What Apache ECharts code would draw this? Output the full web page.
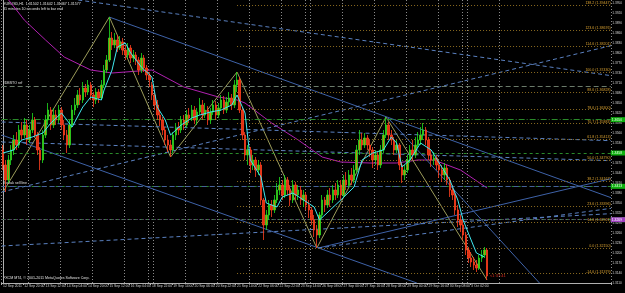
<!DOCTYPE html>
<html><head><meta charset="utf-8">
<script src="https://cdn.jsdelivr.net/npm/echarts@6/dist/echarts.min.js"></script>
<style>html,body{margin:0;padding:0;background:#000}#c{width:625px;height:293px}</style>
</head><body><div id="c"></div>
<script>
// trading days: [day label, first hour, last hour] (2-hour bars)
const dayPlan = [['12 Sep',4,22],['13 Sep',0,22],['14 Sep',0,22],['15 Sep',0,22],['16 Sep',0,16],['18 Sep',20,22],
['19 Sep',0,22],['20 Sep',0,22],['21 Sep',0,22],['22 Sep',0,22],['23 Sep',0,16],['25 Sep',20,22],
['26 Sep',0,22],['27 Sep',0,22],['28 Sep',0,22],['29 Sep',0,22],['30 Sep',0,16],['2 Oct',20,22],
['3 Oct',0,22],['4 Oct',0,22],['5 Oct',0,22],['6 Oct',0,22],['7 Oct',0,10]];

// [open, close, low, high]
const ohlc = [
[1.3509,1.3464,1.3449,1.3524],[1.3464,1.3419,1.3383,1.3479],[1.3419,1.3479,1.3410,1.3494],[1.3479,1.3509,1.3464,1.3524],
[1.3509,1.3539,1.3494,1.3554],[1.3539,1.3524,1.3509,1.3563],[1.3524,1.3569,1.3515,1.3584],[1.3569,1.3554,1.3539,1.3593],
[1.3554,1.3584,1.3545,1.3605],[1.3584,1.3539,1.3524,1.3599],[1.3539,1.3569,1.3530,1.3584],[1.3569,1.3599,1.3560,1.3620],
[1.3599,1.3554,1.3545,1.3608],[1.3554,1.3509,1.3494,1.3563],[1.3509,1.3479,1.3449,1.3518],[1.3479,1.3554,1.3470,1.3569],
[1.3554,1.3599,1.3545,1.3614],[1.3599,1.3629,1.3584,1.3650],[1.3629,1.3584,1.3569,1.3638],[1.3584,1.3614,1.3575,1.3635],
[1.3614,1.3599,1.3584,1.3629],[1.3599,1.3629,1.3590,1.3644],[1.3629,1.3584,1.3569,1.3638],[1.3584,1.3554,1.3539,1.3599],
[1.3554,1.3524,1.3500,1.3569],[1.3524,1.3584,1.3515,1.3599],[1.3584,1.3629,1.3575,1.3644],[1.3629,1.3644,1.3614,1.3665],
[1.3644,1.3674,1.3635,1.3689],[1.3674,1.3659,1.3644,1.3695],[1.3659,1.3695,1.3650,1.3713],[1.3695,1.3683,1.3668,1.3707],
[1.3683,1.3704,1.3674,1.3719],[1.3704,1.3674,1.3659,1.3713],[1.3674,1.3659,1.3638,1.3683],[1.3659,1.3683,1.3647,1.3695],
[1.3683,1.3665,1.3650,1.3692],[1.3665,1.3704,1.3659,1.3719],[1.3704,1.3749,1.3695,1.3764],[1.3749,1.3779,1.3740,1.3794],
[1.3779,1.3845,1.3773,1.3908],[1.3845,1.3824,1.3809,1.3863],[1.3824,1.3839,1.3815,1.3860],[1.3839,1.3815,1.3803,1.3854],
[1.3815,1.3833,1.3809,1.3851],[1.3833,1.3809,1.3794,1.3845],[1.3809,1.3794,1.3779,1.3824],[1.3794,1.3815,1.3785,1.3830],
[1.3815,1.3785,1.3770,1.3824],[1.3785,1.3794,1.3773,1.3809],[1.3794,1.3779,1.3764,1.3803],[1.3779,1.3749,1.3734,1.3788],
[1.3749,1.3785,1.3740,1.3800],[1.3785,1.3755,1.3743,1.3794],[1.3755,1.3734,1.3719,1.3764],[1.3734,1.3719,1.3698,1.3743],
[1.3704,1.3674,1.3659,1.3713],[1.3674,1.3644,1.3629,1.3683],[1.3644,1.3614,1.3599,1.3659],[1.3614,1.3599,1.3581,1.3629],
[1.3599,1.3569,1.3554,1.3608],[1.3569,1.3539,1.3524,1.3578],[1.3539,1.3524,1.3503,1.3554],[1.3524,1.3509,1.3488,1.3539],
[1.3509,1.3554,1.3500,1.3563],[1.3554,1.3575,1.3539,1.3590],[1.3575,1.3569,1.3554,1.3593],[1.3569,1.3599,1.3560,1.3611],
[1.3599,1.3584,1.3569,1.3614],[1.3584,1.3614,1.3575,1.3629],[1.3614,1.3605,1.3590,1.3635],[1.3605,1.3629,1.3596,1.3644],
[1.3629,1.3599,1.3587,1.3641],[1.3599,1.3623,1.3584,1.3635],[1.3623,1.3644,1.3614,1.3665],[1.3644,1.3614,1.3599,1.3659],
[1.3614,1.3629,1.3605,1.3650],[1.3629,1.3599,1.3584,1.3641],[1.3599,1.3623,1.3587,1.3635],[1.3623,1.3644,1.3614,1.3659],
[1.3644,1.3614,1.3599,1.3656],[1.3614,1.3635,1.3605,1.3650],[1.3635,1.3659,1.3626,1.3674],[1.3659,1.3629,1.3617,1.3671],
[1.3629,1.3653,1.3620,1.3668],[1.3653,1.3665,1.3641,1.3683],[1.3665,1.3644,1.3629,1.3677],[1.3644,1.3704,1.3635,1.3719],
[1.3704,1.3719,1.3683,1.3743],[1.3719,1.3629,1.3620,1.3728],[1.3629,1.3554,1.3539,1.3638],[1.3554,1.3494,1.3479,1.3563],
[1.3494,1.3509,1.3464,1.3524],[1.3509,1.3464,1.3440,1.3518],[1.3464,1.3479,1.3449,1.3494],[1.3479,1.3449,1.3428,1.3488],
[1.3449,1.3464,1.3434,1.3479],[1.3464,1.3359,1.3344,1.3473],[1.3359,1.3284,1.3239,1.3365],[1.3284,1.3314,1.3269,1.3329],
[1.3314,1.3344,1.3299,1.3359],[1.3344,1.3329,1.3308,1.3359],[1.3329,1.3359,1.3320,1.3374],[1.3359,1.3389,1.3350,1.3410],
[1.3389,1.3404,1.3374,1.3428],[1.3404,1.3374,1.3359,1.3419],[1.3374,1.3419,1.3365,1.3434],[1.3419,1.3389,1.3374,1.3428],
[1.3389,1.3359,1.3341,1.3404],[1.3359,1.3404,1.3350,1.3419],[1.3404,1.3374,1.3359,1.3413],[1.3374,1.3389,1.3359,1.3404],
[1.3389,1.3359,1.3344,1.3401],[1.3359,1.3374,1.3338,1.3389],[1.3374,1.3344,1.3329,1.3383],[1.3344,1.3329,1.3305,1.3359],
[1.3329,1.3299,1.3284,1.3338],[1.3299,1.3269,1.3248,1.3314],[1.3269,1.3254,1.3215,1.3284],[1.3254,1.3314,1.3245,1.3323],
[1.3314,1.3359,1.3305,1.3374],[1.3359,1.3344,1.3323,1.3368],[1.3344,1.3374,1.3335,1.3389],[1.3374,1.3359,1.3338,1.3395],
[1.3359,1.3389,1.3350,1.3404],[1.3389,1.3374,1.3359,1.3410],[1.3374,1.3404,1.3365,1.3419],[1.3404,1.3374,1.3359,1.3419],
[1.3374,1.3419,1.3365,1.3434],[1.3419,1.3404,1.3389,1.3443],[1.3404,1.3434,1.3395,1.3449],[1.3434,1.3419,1.3404,1.3455],
[1.3419,1.3449,1.3410,1.3464],[1.3449,1.3509,1.3440,1.3524],[1.3509,1.3539,1.3494,1.3569],[1.3539,1.3524,1.3509,1.3560],
[1.3524,1.3545,1.3515,1.3560],[1.3545,1.3524,1.3509,1.3554],[1.3524,1.3509,1.3488,1.3539],[1.3509,1.3479,1.3455,1.3518],
[1.3479,1.3494,1.3464,1.3509],[1.3494,1.3464,1.3449,1.3503],[1.3464,1.3509,1.3455,1.3524],[1.3509,1.3554,1.3500,1.3569],
[1.3554,1.3584,1.3545,1.3608],[1.3584,1.3554,1.3539,1.3593],[1.3554,1.3539,1.3524,1.3569],[1.3539,1.3509,1.3494,1.3548],
[1.3509,1.3524,1.3500,1.3539],[1.3524,1.3464,1.3449,1.3530],[1.3464,1.3434,1.3410,1.3473],[1.3434,1.3449,1.3419,1.3464],
[1.3449,1.3479,1.3440,1.3494],[1.3479,1.3509,1.3470,1.3524],[1.3509,1.3494,1.3479,1.3539],[1.3494,1.3524,1.3485,1.3548],
[1.3524,1.3539,1.3515,1.3563],[1.3539,1.3554,1.3524,1.3578],[1.3554,1.3569,1.3539,1.3590],[1.3569,1.3539,1.3524,1.3578],
[1.3539,1.3494,1.3479,1.3548],[1.3494,1.3479,1.3458,1.3509],[1.3479,1.3485,1.3464,1.3503],[1.3485,1.3464,1.3449,1.3494],
[1.3464,1.3449,1.3425,1.3479],[1.3449,1.3434,1.3413,1.3464],[1.3434,1.3455,1.3419,1.3470],[1.3455,1.3419,1.3404,1.3464],
[1.3419,1.3389,1.3368,1.3428],[1.3389,1.3374,1.3359,1.3404],[1.3374,1.3329,1.3314,1.3383],[1.3329,1.3299,1.3278,1.3344],
[1.3299,1.3284,1.3263,1.3314],[1.3284,1.3254,1.3239,1.3299],[1.3254,1.3209,1.3194,1.3263],[1.3209,1.3185,1.3170,1.3218],
[1.3185,1.3173,1.3158,1.3203],[1.3173,1.3164,1.3149,1.3188],[1.3164,1.3155,1.3143,1.3179],[1.3155,1.3185,1.3149,1.3194],
[1.3185,1.3194,1.3173,1.3209],[1.3194,1.3209,1.3185,1.3218],[1.3209,1.3131,1.3119,1.3215]];

// fast MA (cyan) [bar, price]
const maFast = [[0,1.3500],[4,1.3509],[7,1.3539],[11,1.3548],[15,1.3560],[18,1.3590],[22,1.3620],[26,1.3578],[30,1.3638],
[33,1.3668],[37,1.3659],[38,1.3689],[41,1.3749],[43,1.3818],[46,1.3830],[48,1.3800],[52,1.3758],[56,1.3728],[58,1.3638],
[61,1.3599],[63,1.3554],[67,1.3584],[71,1.3605],[74,1.3614],[78,1.3623],[82,1.3629],[86,1.3644],[88,1.3674],[91,1.3620],
[93,1.3479],[97,1.3428],[99,1.3350],[103,1.3338],[105,1.3368],[109,1.3380],[113,1.3359],[117,1.3338],[119,1.3299],
[123,1.3329],[127,1.3359],[132,1.3398],[135,1.3479],[139,1.3500],[143,1.3509],[146,1.3548],[148,1.3530],[150,1.3458],
[153,1.3479],[157,1.3530],[161,1.3509],[164,1.3470],[168,1.3419],[171,1.3359],[173,1.3299],[176,1.3239],[178,1.3200],[181,1.3188]];
// slow MA (purple) [bar, price]
const maSlow = [[2,1.3960],[8,1.3899],[16,1.3839],[23,1.3788],[33,1.3749],[41,1.3740],[56,1.3749],[68,1.3698],[81,1.3668],
[88,1.3659],[91,1.3650],[101,1.3590],[111,1.3539],[120,1.3488],[127,1.3473],[138,1.3470],[148,1.3470],[156,1.3479],
[162,1.3479],[172,1.3449],[182,1.3395]];
// zigzag swing points [bar, price]
const zigzag = [[0,1.3383],[40,1.3908],[63,1.3488],[88,1.3743],[118,1.3215],[144,1.3608],[182,1.3119]];

// trend lines [[bar, price], [bar, price]]
const trendSolid = [
 [[39.9,1.3908],[228.6,1.3366]],
 [[-0.5,1.3554],[155.6,1.3110]],
 [[144.8,1.3605],[201.7,1.3110]],
 [[118.5,1.3215],[228.6,1.3423]]
];
const trendDashed = [
 [[28.3,1.3959],[228.6,1.3732]],
 [[-0.5,1.3383],[228.6,1.3822]],
 [[118.5,1.3215],[228.6,1.3334]],
 [[-0.5,1.3221],[228.6,1.3318]],
 [[-0.5,1.3593],[228.6,1.3537]],
 [[-0.5,1.3533],[228.6,1.3477]]
];

// fibonacci levels (anchored at the bar-88 swing high)
const fibLevels = ['138.2','123.6','114.6','100.0','88.6','78.6','70.7','61.8','50.0','38.2','23.6','14.6','0.0','-14.6'];
const fibPrices = [1.39447,1.38676,1.38201,1.37430,1.36828,1.36300,1.35883,1.35413,1.34790,1.34167,1.33396,1.32921,1.32150,1.31379];
const fibStartBar = 88;

// horizontal levels with price-scale boxes
const greenLevels = [1.3650,1.3458,1.3413,1.3338];
const purpleLevel = 1.3269;
const bidPrice = 1.3131;
const redLevel = 1.3116;
const refLevel = 1.3719; // "#DBSTO ref"
const sellLevel = 1.3425; // "Gostak sell line"

// build categories
const categories = [];
const dayStarts = new Set();
dayPlan.forEach(([d, h0, h1]) => {
  dayStarts.add(categories.length);
  for (let h = h0; h <= h1; h += 2) categories.push(d + ' ' + String(h).padStart(2,'0') + ':00');
});
const lastBar = ohlc.length - 1;
const NCAT = categories.length;

const chart = echarts.init(document.getElementById('c'), null, {renderer:'canvas'});
const FONT = 'Liberation Sans';

function lineSeries(pts, color, type, width) {
  return {type:'line', xAxisIndex:1, yAxisIndex:0, data:pts, symbol:'none', silent:true,
    lineStyle:{color, width:width||1, type:type||'solid'}, z:3, animation:false};
}
const series = [];
series.push({type:'candlestick', xAxisIndex:0, yAxisIndex:0, data:ohlc, barWidth:2,
  itemStyle:{color:'#c08a10', color0:'#e03010', borderColor:'#20e020', borderColor0:'#ff4020', borderWidth:0.8}, z:5, animation:false});
series.push(lineSeries(maSlow, '#b020b0', 'solid', 1));
series.push(lineSeries(zigzag, '#9c9c5a', 'solid', 1));
trendSolid.forEach(t => series.push(lineSeries(t, '#3e62a8', 'solid', 1)));
trendDashed.forEach(t => series.push(lineSeries(t, '#5a80c0', [4,3], 1)));
series.push(Object.assign(lineSeries(maFast, '#40e8f0', 'solid', 1), {z:6}));

// mark lines
const fibLines = fibPrices.map((p,i) => [
  {coord:[fibStartBar, p], lineStyle:{color:'#8a6a20', type:[1,2], width:1},
   label:{show:true, position:'insideEndTop', formatter: fibLevels[i] + ' (' + p.toFixed(5) + ')', color:'#d8a030', fontSize:3.6, fontFamily:FONT, distance:0}},
  {coord:[NCAT-0.5, p]}]);
function boxLine(p, lc, bg, fg, type) {
  return {yAxis:p, lineStyle:{color:lc, type:type, width:1},
    label:{show:true, position:'end', formatter:p.toFixed(4), backgroundColor:bg, color:fg, fontSize:3.4, fontFamily:FONT, padding:[1,3,1,1], distance:0}};
}
const hLines = [];
greenLevels.forEach((p,i) => hLines.push(boxLine(p, '#2a8a2a', '#10b010', '#e8ffe8', i===0?[6,2,1,2]:[3,3])));
hLines.push(boxLine(purpleLevel, '#8040a0', '#a040c0', '#ffffff', [1,2]));
hLines.push(boxLine(bidPrice, '#a0a0a0', '#e8e8e8', '#000000', 'solid'));
hLines.push(boxLine(redLevel, '#b02010', '#e04010', '#ffffff', [1,2]));
hLines.push({yAxis:refLevel, lineStyle:{color:'#6a7a6a', type:[5,3], width:1},
  label:{show:true, position:'insideStartTop', formatter:'#DBSTO ref', color:'#e0e0e0', fontSize:3.6, fontFamily:FONT, distance:1}});
hLines.push({yAxis:sellLevel, lineStyle:{color:'#46609a', type:[5,3], width:1},
  label:{show:true, position:'insideStartTop', formatter:'Gostak sell line', color:'#e0e0e0', fontSize:3.6, fontFamily:FONT, distance:1}});

series.push({type:'line', xAxisIndex:1, yAxisIndex:0, data:[], silent:true, animation:false,
  markLine:{symbol:'none', silent:true, animation:false, data: fibLines.concat(hLines)}});

chart.setOption({
  backgroundColor:'#000000',
  animation:false,
  grid:{left:0, right:13, top:0, bottom:10},
  xAxis:[
    {type:'category', data:categories, boundaryGap:true,
     axisLine:{lineStyle:{color:'#b0b0b0'}}, axisTick:{show:true, length:2, interval:(i)=>i%8===0 && i<=lastBar, lineStyle:{color:'#b0b0b0'}},
     axisLabel:{interval:(i)=>i%8===0 && i<=lastBar, formatter:(v,i)=> i===0 ? '12 Sep 2011' : v,
       color:'#d0d0d0', fontSize:3.4, fontFamily:FONT, align:'left', margin:2},
     splitLine:{show:true, interval:(i)=>dayStarts.has(i) && i<=lastBar+6, lineStyle:{color:'#8a8a8a', type:[1,2], width:1}}},
    {type:'value', min:-0.5, max:NCAT-0.5, show:false}
  ],
  yAxis:[{type:'value', position:'right', min:1.3110, max:1.3959, interval:0.003, scale:true,
    axisLine:{show:true, lineStyle:{color:'#b0b0b0'}}, axisTick:{show:true, length:1, lineStyle:{color:'#b0b0b0'}},
    axisLabel:{formatter:(v)=>v.toFixed(4), color:'#d0d0d0', fontSize:3.2, fontFamily:FONT, margin:1.5, showMaxLabel:false},
    splitLine:{show:false}}],
  graphic:[
    {type:'text', left:3, top:2, style:{text:'EURUSD,H1  1.31502 1.31642 1.31467 1.31577', fill:'#e0e0e0', font:'3.6px '+FONT}},
    {type:'text', left:3, top:7, style:{text:'31 minutes 10 seconds left to bar end', fill:'#e0e0e0', font:'3.6px '+FONT}},
    {type:'text', left:3, top:276, style:{text:'FXCM MT4, © 2001-2011 MetaQuotes Software Corp.', fill:'#e0e0e0', font:'3.6px '+FONT}},
    {type:'text', left:490, top:274, style:{text:'<1:37:41', fill:'#e03020', font:'4px '+FONT}}
  ],
  series
});
</script></body></html>
